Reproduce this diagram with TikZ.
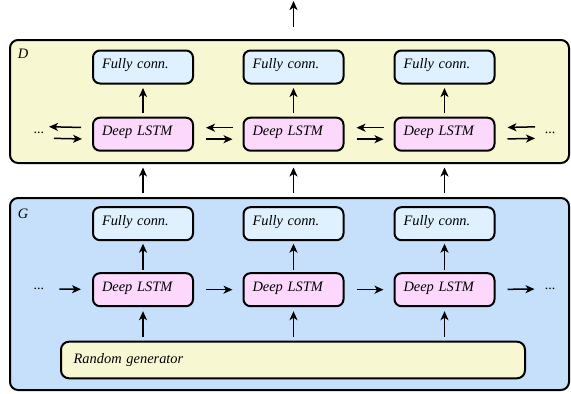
\documentclass[tikz,border=0pt]{standalone}
\usepackage{fontspec}
\setmainfont{Liberation Serif}
\usetikzlibrary{arrows.meta}
\definecolor{dyellow}{RGB}{247,247,210}
\definecolor{gblue}{RGB}{198,224,251}
\definecolor{fcblue}{RGB}{223,240,254}
\definecolor{lpink}{RGB}{252,217,252}
\begin{document}
\begin{tikzpicture}[x=1pt,y=-1pt,
  txt/.style={font=\fontsize{14.4}{16}\selectfont\itshape},
  box/.style={draw, line width=2pt, rounded corners=8pt},
  cell/.style={box, txt, rounded corners=7pt, minimum width=100pt, minimum height=33pt,
    text width=82pt, align=left, inner xsep=9pt, text height=10.5pt, text depth=7.5pt},
  fc/.style={cell, fill=fcblue},
  lstm/.style={cell, fill=lpink},
  lab/.style={txt, inner sep=0pt},
  dots/.style={font=\fontsize{14}{16}\selectfont, inner sep=0pt},
  arr/.style={-{Stealth[length=9pt,width=8pt,inset=2.5pt]}, line width=1.5pt},
  varr/.style={arr, shorten <=3.5pt, shorten >=3.5pt},
  harr/.style={arr, shorten <=12pt, shorten >=10pt}
]
\useasboundingbox (0,0) rectangle (571,394);

% big boxes
\node[box, fill=dyellow, minimum width=559pt, minimum height=123pt] (D) at (289.5,101.5) {};
\node[box, fill=gblue, minimum width=559pt, minimum height=192pt] (G) at (289.5,294) {};
\node[lab] (Dl) at (23,54) {D};
\node[lab] (Gl) at (23,214) {G};

\foreach \i/\x in {1/143,2/293.5,3/444.5}{
  \node[fc] (dfc\i) at (\x,67) {Fully conn.};
  \node[lstm] (dl\i) at (\x,134.2) {Deep LSTM};
  \node[fc] (gfc\i) at (\x,223.7) {Fully conn.};
  \node[lstm] (gl\i) at (\x,289.7) {Deep LSTM};
}
\node[box, txt, fill=dyellow, minimum width=464pt, minimum height=36.6pt, anchor=west,
  text width=438.6pt, align=left, inner xsep=12.7pt] (rg) at (60,360) {Random generator};

\node[dots] (ddl) at (39,133) {...};
\node[dots] (ddr) at (550,133) {...};
\node[dots] (gdl) at (39,289) {...};
\node[dots] (gdr) at (550,289) {...};

% vertical arrows
\foreach \i in {1,2,3}{
  \draw[varr] (dl\i) -- (dfc\i);
  \draw[arr, shorten <=4pt, shorten >=3.5pt] (gfc\i.north |- G.north) -- (gfc\i.north |- D.south);
  \draw[arr, shorten <=2.5pt, shorten >=2.5pt] (gl\i) -- (gfc\i);
  \draw[arr, shorten <=4pt, shorten >=4pt] (gl\i.south |- rg.north) -- (gl\i);
}
\coordinate (out) at (293.5,1);
\draw[arr, shorten <=12pt] (out |- D.north) -- (out);

% G horizontal
\draw[arr, shorten <=15pt, shorten >=11pt] (gdl) -- (gl1);
\draw[harr] (gl1) -- (gl2);
\draw[harr] (gl2) -- (gl3);
\draw[arr, shorten <=12pt, shorten >=10pt] (gl3) -- (gdr);

% D bidirectional
\draw[arr, shorten <=11pt, shorten >=10pt] ([yshift=6.5pt]dl1.west) -- ([yshift=6.5pt]ddl.center);
\draw[arr, shorten <=15pt, shorten >=10pt] ([yshift=-5pt]ddl.center) -- ([yshift=-5pt]dl1.west);
\foreach \a/\b in {1/2,2/3}{
  \draw[arr, shorten <=10pt, shorten >=12pt] ([yshift=6.5pt]dl\b.west) -- ([yshift=6.5pt]dl\a.east);
  \draw[harr] ([yshift=-5pt]dl\a.east) -- ([yshift=-5pt]dl\b.west);
}
\draw[arr, shorten <=15pt, shorten >=12pt] ([yshift=6.5pt]ddr.center) -- ([yshift=6.5pt]dl3.east);
\draw[arr, shorten <=12pt, shorten >=15pt] ([yshift=-5pt]dl3.east) -- ([yshift=-5pt]ddr.center);
\end{tikzpicture}
\end{document}
